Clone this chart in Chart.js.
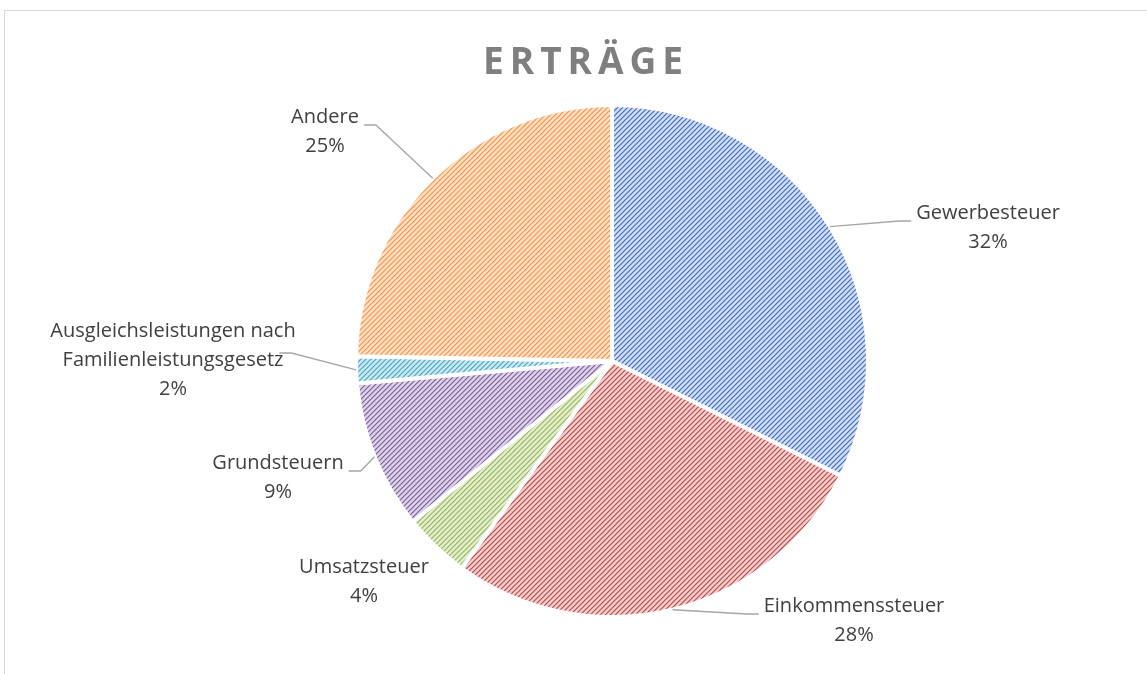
<!DOCTYPE html>
<html>
<head>
<meta charset="utf-8">
<script src="https://cdn.jsdelivr.net/npm/chart.js@4/dist/chart.umd.min.js"></script>
<style>
  html, body { margin: 0; padding: 0; background: #fff; }
  #pie { display: block; }
</style>
</head>
<body>
<canvas id="pie" width="1147" height="674"></canvas>
<script>
// data (shares in %)
const categories = ['Gewerbesteuer', 'Einkommenssteuer', 'Umsatzsteuer', 'Grundsteuern', 'Ausgleichsleistungen nach Familienleistungsgesetz', 'Andere'];
const labelLines = [['Gewerbesteuer'], ['Einkommenssteuer'], ['Umsatzsteuer'], ['Grundsteuern'], ['Ausgleichsleistungen nach', 'Familienleistungsgesetz'], ['Andere']];
const shares = [32.4, 27.6, 4.2, 9.4, 1.7, 24.7];
const chartTitle = 'ERTRÄGE';

// office-style colours: line colour + pale background for the hatch
const lineColors = ['#4472C4', '#C0504D', '#9BBB59', '#8064A2', '#4BACC6', '#F79646'];
const paleColors = ['#D2DDF1', '#F0CFCE', '#E3EDD2', '#DCD3E7', '#CBE7F0', '#FDE0C9'];

// label placement, offset of the text block centre from the pie centre
const labelOffsets = [[376, -133], [242, 260], [-248, 221], [-334, 117], [-439, -1], [-287, -229]];
const leaderSide = ['left', 'left', 'none', 'right', 'right', 'right'];

const canvas = document.getElementById('pie');
const ctx = canvas.getContext('2d');

// diagonal hatch like excel's pattern fill
function makeHatch(dark, pale) {
  const size = 5;
  const tile = document.createElement('canvas');
  tile.width = size;
  tile.height = size;
  const t = tile.getContext('2d');
  t.fillStyle = pale;
  t.fillRect(0, 0, size, size);
  t.fillStyle = dark;
  for (let y = 0; y < size; y++) {
    t.globalAlpha = 1;
    t.fillRect((size - 1 - y), y, 1, 1);
    t.globalAlpha = 0.45;
    t.fillRect((size - y) % size, y, 1, 1);
    t.globalAlpha = 0.2;
    t.fillRect((2 * size - 2 - y) % size, y, 1, 1);
  }
  return ctx.createPattern(tile, 'repeat');
}

const hatches = lineColors.map((c, i) => makeHatch(c, paleColors[i]));

const LABEL_FONT = '20px "Open Sans", sans-serif';
const LINE_H = 29;

const framePlugin = {
  id: 'frame',
  beforeDraw(chart) {
    const c = chart.ctx;
    c.save();
    c.fillStyle = '#fff';
    c.fillRect(0, 0, chart.width, chart.height);
    c.strokeStyle = '#d9d9d9';
    c.lineWidth = 1;
    c.strokeRect(4.5, 10.5, chart.width + 20, chart.height + 20);
    c.restore();
  },
  afterDraw(chart) {
    const c = chart.ctx;
    c.save();
    c.font = 'bold 37px "Open Sans", sans-serif';
    c.fillStyle = '#7F7F7F';
    c.textBaseline = 'alphabetic';
    // spread the letters to the width of the original title
    const letters = chartTitle.split('');
    const plain = c.measureText(chartTitle).width;
    const gap = (200 - plain) / (letters.length - 1);
    let x = 583 - 100;
    letters.forEach(ch => {
      c.fillText(ch, x, 74);
      x += c.measureText(ch).width + gap;
    });
    c.restore();
  }
};

const labelPlugin = {
  id: 'outsideLabels',
  afterDatasetsDraw(chart) {
    const c = chart.ctx;
    const arcs = chart.getDatasetMeta(0).data;
    const total = shares.reduce((a, b) => a + b, 0);
    c.save();
    c.font = LABEL_FONT;
    c.fillStyle = '#404040';
    c.textAlign = 'center';
    c.textBaseline = 'middle';
    arcs.forEach((arc, i) => {
      const lines = labelLines[i].concat([Math.round(shares[i] / total * 100) + '%']);
      const cx = arc.x + labelOffsets[i][0];
      const cy = arc.y + labelOffsets[i][1];
      const top = cy - (lines.length - 1) * LINE_H / 2;
      let lastW = 0;
      lines.forEach((ln, k) => {
        c.fillText(ln, cx, top + k * LINE_H);
        if (k < lines.length - 1) lastW = c.measureText(ln).width;
      });
      if (leaderSide[i] === 'none') return;
      const mid = (arc.startAngle + arc.endAngle) / 2;
      const sx = arc.x + Math.cos(mid) * arc.outerRadius;
      const sy = arc.y + Math.sin(mid) * arc.outerRadius;
      const dir = leaderSide[i] === 'left' ? -1 : 1;
      // leader ends next to the last name line
      const ex = cx + dir * (lastW / 2 - 4 + (lines.length > 2 ? 0 : 9));
      const ey = cy - 7;
      c.beginPath();
      c.moveTo(sx, sy);
      c.lineTo(ex + dir * 12, ey);
      c.lineTo(ex, ey);
      c.strokeStyle = '#A6A6A6';
      c.lineWidth = 1.3;
      c.stroke();
    });
    c.restore();
  }
};

new Chart(ctx, {
  type: 'pie',
  data: {
    labels: categories,
    datasets: [{
      data: shares,
      backgroundColor: hatches,
      borderColor: '#ffffff',
      borderWidth: 4
    }]
  },
  options: {
    responsive: false,
    animation: false,
    radius: 256,
    layout: { padding: { left: 312, right: 235, top: 61, bottom: 13 } },
    plugins: {
      legend: { display: false },
      tooltip: { enabled: false },
      title: { display: false }
    }
  },
  plugins: [framePlugin, labelPlugin]
});
</script>
</body>
</html>
